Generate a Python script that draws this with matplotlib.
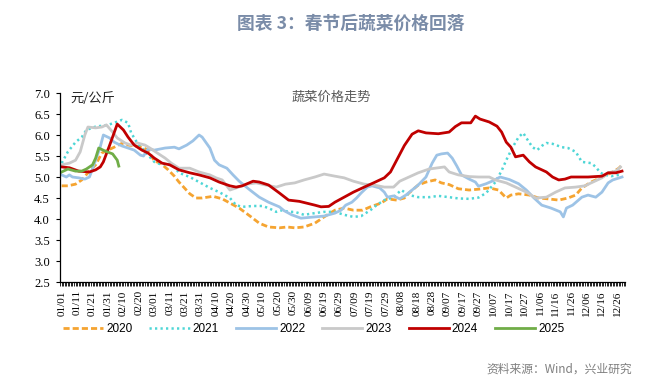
import numpy as np
import matplotlib
matplotlib.use("Agg")
import matplotlib.pyplot as plt
from matplotlib.ticker import MultipleLocator

# day-of-year (0 = 01/01) and price in yuan/kg
d2020 = [0, 4, 9, 13, 17, 22, 26, 30, 34, 39, 43, 47, 52, 56, 60, 64, 69, 73, 76, 83, 87, 91, 98, 102,
         104, 109, 115, 122, 128, 134, 141, 146, 151, 157, 164, 170, 177, 183, 189, 195, 200, 207, 211,
         217, 222, 225, 231, 236, 242, 246, 251, 257, 264, 270, 277, 283, 288, 291, 296, 303, 309, 315,
         322, 328, 333, 337, 343, 350, 356, 361, 363]
v2020 = [4.79, 4.79, 4.83, 4.93, 5.1, 5.29, 5.57, 5.64, 5.71, 5.8, 5.76, 5.74, 5.71, 5.64, 5.38, 5.33,
         5.17, 5.02, 4.88, 4.6, 4.5, 4.5, 4.54, 4.5, 4.48, 4.38, 4.26, 4.07, 3.9, 3.81, 3.79, 3.81, 3.79,
         3.81, 3.9, 4.05, 4.21, 4.26, 4.21, 4.21, 4.29, 4.38, 4.48, 4.45, 4.5, 4.62, 4.81, 4.88, 4.93,
         4.86, 4.82, 4.72, 4.69, 4.71, 4.74, 4.69, 4.5, 4.57, 4.6, 4.57, 4.5, 4.48, 4.45, 4.5, 4.57, 4.74,
         4.88, 5.0, 5.1, 5.21, 5.29]

d2021 = [0, 4, 9, 13, 16, 22, 26, 30, 34, 39, 43, 45, 49, 52, 56, 60, 65, 69, 73, 76, 83, 89, 96, 102,
         109, 113, 117, 124, 130, 134, 139, 143, 147, 151, 157, 164, 170, 177, 183, 189, 194, 200, 204,
         209, 215, 220, 225, 231, 238, 244, 251, 257, 264, 270, 275, 281, 285, 288, 292, 296, 299, 301,
         305, 308, 311, 314, 318, 324, 328, 333, 337, 343, 346, 349, 352, 356, 361]
v2021 = [5.33, 5.6, 5.83, 5.95, 6.12, 6.2, 6.22, 6.24, 6.29, 6.36, 6.29, 6.05, 5.81, 5.69, 5.52, 5.36,
         5.29, 5.33, 5.24, 5.1, 5.0, 4.88, 4.74, 4.64, 4.5, 4.33, 4.29, 4.31, 4.31, 4.26, 4.17, 4.21,
         4.17, 4.17, 4.1, 4.14, 4.17, 4.17, 4.1, 4.05, 4.07, 4.21, 4.33, 4.45, 4.52, 4.69, 4.57, 4.52,
         4.52, 4.55, 4.52, 4.49, 4.48, 4.51, 4.62, 4.88, 5.15, 5.4, 5.7, 5.95, 6.05, 5.93, 5.71, 5.64,
         5.74, 5.81, 5.79, 5.71, 5.69, 5.6, 5.36, 5.33, 5.24, 5.1, 5.05, 5.02, 5.05]

d2022 = [0, 3, 5, 7, 11, 15, 18, 22, 25, 27, 31, 34, 39, 43, 47, 51, 53, 56, 60, 67, 73, 76, 81, 85, 89,
         91, 96, 99, 102, 107, 111, 115, 122, 128, 134, 141, 144, 149, 155, 164, 170, 177, 181, 184, 188,
         191, 194, 198, 201, 206, 209, 211, 215, 219, 223, 227, 231, 236, 240, 243, 246, 250, 253, 256,
         259, 264, 268, 270, 275, 280, 284, 290, 296, 301, 306, 311, 317, 323, 325, 327, 331, 337, 341,
         346, 350, 354, 357, 363]
v2022 = [5.05, 5.0, 5.05, 5.0, 4.98, 4.95, 5.0, 5.4, 5.72, 6.0, 5.93, 5.83, 5.74, 5.69, 5.64, 5.52, 5.5,
         5.67, 5.64, 5.69, 5.71, 5.67, 5.76, 5.86, 6.0, 5.95, 5.69, 5.4, 5.29, 5.21, 5.05, 4.9, 4.69, 4.52,
         4.4, 4.29, 4.2, 4.1, 4.02, 4.05, 4.07, 4.14, 4.21, 4.33, 4.4, 4.5, 4.62, 4.76, 4.79, 4.74, 4.64,
         4.52, 4.55, 4.48, 4.57, 4.69, 4.81, 5.0, 5.33, 5.52, 5.55, 5.57, 5.45, 5.26, 5.05, 4.95, 4.88,
         4.78, 4.84, 4.92, 5.0, 4.94, 4.84, 4.69, 4.5, 4.33, 4.26, 4.17, 4.05, 4.26, 4.33, 4.52, 4.57,
         4.52, 4.64, 4.86, 4.93, 5.0]

d2023 = [0, 5, 9, 12, 15, 17, 22, 26, 29, 33, 36, 41, 45, 49, 54, 58, 62, 67, 71, 76, 83, 89, 96, 100,
         104, 109, 113, 120, 126, 132, 139, 145, 151, 157, 164, 170, 177, 183, 189, 196, 202, 209, 215,
         219, 225, 231, 238, 244, 248, 251, 257, 264, 270, 277, 281, 288, 294, 301, 307, 314, 320, 326,
         333, 339, 343, 350, 354, 359, 362]
v2023 = [5.29, 5.33, 5.4, 5.6, 6.0, 6.19, 6.17, 6.19, 6.24, 6.07, 5.93, 5.81, 5.76, 5.81, 5.76, 5.67,
         5.57, 5.45, 5.33, 5.21, 5.21, 5.12, 5.05, 4.98, 4.93, 4.69, 4.74, 4.83, 4.86, 4.81, 4.76, 4.83,
         4.86, 4.93, 5.0, 5.07, 5.02, 4.98, 4.9, 4.83, 4.81, 4.76, 4.76, 4.9, 5.0, 5.1, 5.19, 5.22, 5.24,
         5.12, 5.05, 5.01, 5.0, 5.0, 4.93, 4.86, 4.76, 4.64, 4.5, 4.52, 4.64, 4.74, 4.76, 4.79, 4.86,
         4.98, 5.1, 5.14, 5.24]

d2024 = [0, 5, 11, 18, 22, 25, 27, 31, 36, 40, 43, 47, 52, 56, 60, 65, 70, 76, 83, 89, 96, 102, 109,
         113, 117, 124, 128, 134, 141, 147, 154, 164, 168, 173, 177, 183, 189, 196, 202, 209, 213, 217,
         222, 227, 231, 236, 244, 251, 255, 259, 265, 268, 271, 277, 282, 285, 288, 291, 294, 299, 303,
         307, 314, 318, 322, 326, 330, 341, 350, 354, 359, 363]
v2024 = [5.24, 5.22, 5.14, 5.12, 5.17, 5.24, 5.36, 5.75, 6.26, 6.12, 5.95, 5.76, 5.64, 5.57, 5.45,
         5.33, 5.29, 5.17, 5.1, 5.05, 4.98, 4.88, 4.79, 4.76, 4.79, 4.9, 4.88, 4.81, 4.62, 4.45, 4.42,
         4.33, 4.29, 4.3, 4.4, 4.52, 4.64, 4.76, 4.86, 4.98, 5.12, 5.4, 5.75, 6.02, 6.1, 6.05, 6.03,
         6.07, 6.2, 6.29, 6.29, 6.45, 6.38, 6.31, 6.21, 6.07, 5.83, 5.71, 5.48, 5.52, 5.36, 5.24, 5.12,
         5.0, 4.93, 4.95, 5.0, 5.0, 5.02, 5.1, 5.1, 5.14]

d2025 = [0, 4, 9, 13, 16, 20, 22, 24, 28, 33, 36, 37]
v2025 = [5.12, 5.19, 5.14, 5.14, 5.19, 5.29, 5.45, 5.69, 5.62, 5.55, 5.4, 5.26]

tick_days = list(range(0, 361, 10))
tick_labels = ["01/01", "01/11", "01/21", "01/31", "02/10", "02/20", "03/01", "03/11", "03/21",
               "03/31", "04/10", "04/20", "04/30", "05/10", "05/20", "05/30", "06/09", "06/19",
               "06/29", "07/09", "07/19", "07/29", "08/08", "08/18", "08/28", "09/07", "09/17",
               "09/27", "10/07", "10/17", "10/27", "11/06", "11/16", "11/26", "12/06", "12/16",
               "12/26"]
y_ticks = [2.5, 3.0, 3.5, 4.0, 4.5, 5.0, 5.5, 6.0, 6.5, 7.0]

serif = "Liberation Serif"
cjk = ["Noto Sans CJK SC", "DejaVu Sans"]

fig = plt.figure(figsize=(6.66, 3.84), dpi=100)
ax = fig.add_axes([0.0896, 0.2656, 0.849, 0.4922])

ax.plot(d2020, v2020, color="#F5A431", lw=2.0, dashes=(2.2, 1.1), label="2020")
ax.plot(d2021, v2021, color="#4ED6D6", lw=1.8, linestyle=(0, (0.9, 1.3)), label="2021")
ax.plot(d2022, v2022, color="#9DC3E6", lw=2.0, label="2022")
ax.plot(d2023, v2023, color="#C9C9C9", lw=2.0, label="2023")
ax.plot(d2024, v2024, color="#C00000", lw=2.0, label="2024")
ax.plot(d2025, v2025, color="#70AD47", lw=2.0, label="2025")

ax.set_xlim(-1.3, 365)
ax.set_ylim(2.5, 7.0)
ax.set_yticks(y_ticks)
ax.set_yticklabels([f"{v:.1f}" for v in y_ticks], family=serif, fontsize=9)
ax.set_xticks(tick_days)
ax.set_xticklabels(tick_labels, rotation=90, family=serif, fontsize=8)
ax.xaxis.set_minor_locator(MultipleLocator(1))
ax.tick_params(axis="x", which="both", direction="out", length=3, width=0.6, pad=3)
ax.tick_params(axis="y", direction="out", length=3, width=0.8, pad=4)

for s in ["top", "right"]:
    ax.spines[s].set_visible(False)
for s in ["left", "bottom"]:
    ax.spines[s].set_linewidth(0.9)

ax.text(5.5, 6.87, "元/公斤", family=cjk, fontsize=9.5, color="#222222", va="center")
ax.text(0.48, 0.976, "蔬菜价格走势", transform=ax.transAxes, family=cjk, fontsize=9.5,
        color="#595959", ha="center", va="center")

fig.text(351 / 666, 1 - 24 / 384, "图表 3：春节后蔬菜价格回落", family=cjk, fontsize=12.8,
         fontweight="bold", color="#7A8CA8", ha="center", va="center")
fig.text(632 / 666, 1 - 369 / 384, "资料来源：Wind，兴业研究", family=cjk, fontsize=8.5,
         color="#7F7F7F", ha="right", va="center")

fig.legend(loc="center left", bbox_to_anchor=(63 / 666, 1 - 329 / 384), ncol=6, frameon=False,
           prop={"family": "Liberation Sans", "size": 8.5}, handlelength=3.4, handletextpad=0.25,
           columnspacing=1.45, borderpad=0, borderaxespad=0)

fig.savefig("out.png", dpi=100)
